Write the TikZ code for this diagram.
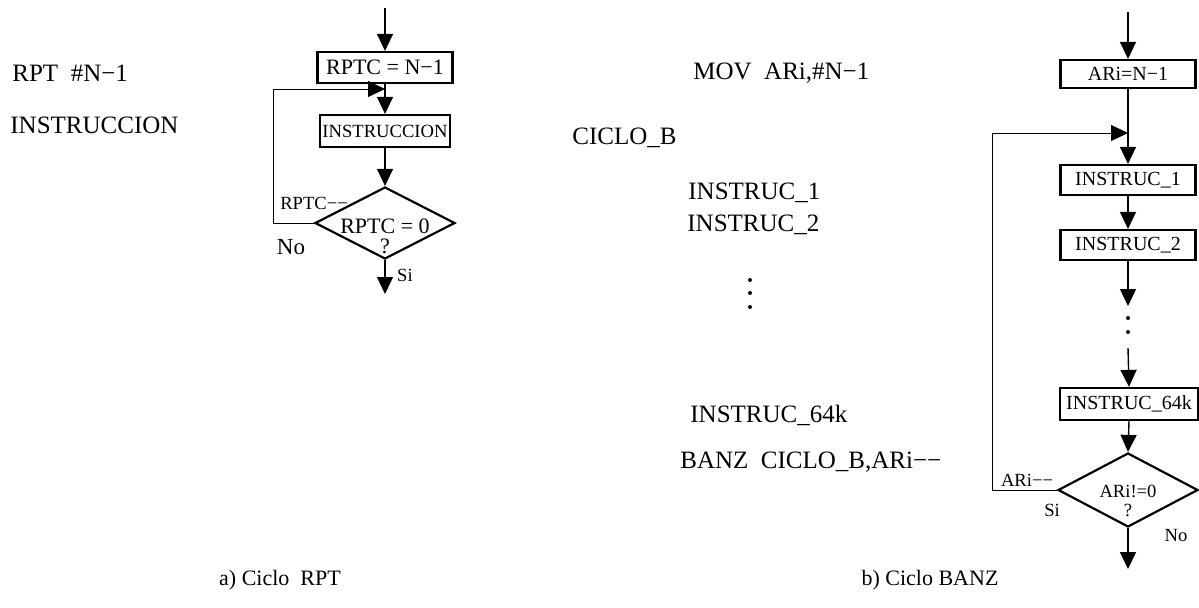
\documentclass[tikz,border=0pt]{standalone}
\usepackage{fontspec}
\setmainfont{Liberation Serif}
\usetikzlibrary{arrows.meta,shapes.geometric}
\tikzset{
 box/.style={draw,line width=1.1pt,minimum width=67.5pt,inner sep=1pt,font=\fontsize{10}{12}\selectfont},
 decision/.style={draw,diamond,line width=1.1pt,minimum width=70pt,minimum height=36pt,inner sep=0pt},
 flow/.style={line width=0.7pt,-{Triangle[length=8.5pt,width=8pt]}},
 back/.style={line width=0.5pt,-{Triangle[length=8.5pt,width=8pt]}},
 code/.style={anchor=west,inner sep=0pt,font=\fontsize{12.5}{14}\selectfont},
 tag/.style={inner sep=0pt,font=\fontsize{9.3}{11}\selectfont}
}
\begin{document}
\begin{tikzpicture}[x=0.5pt,y=-0.5pt]
 \useasboundingbox(0,0)rectangle(1199,607);
 % a) Ciclo RPT
 \node[code](lrpt)at(12,73){RPT\ \ \#N−1};
 \node[code](linstr)at(10,125){INSTRUCCION};
 \node[box,minimum height=15.5pt,font=\fontsize{11}{13}\selectfont](rptc)at(385,67.5){RPTC = N−1};
 \node[box,minimum width=65pt,minimum height=16pt,font=\fontsize{9.3}{11}\selectfont](instr)at(385,131){INSTRUCCION};
 \node[decision](dec1)at(385,223){};
 \node[align=center,inner sep=0pt,font=\fontsize{11}{10}\selectfont](dec1txt)at(385,236){RPTC = 0\\?};
 \coordinate(atop)at(385,8);\coordinate(ajoin)at(385,89);\coordinate(aback)at(273,223);\coordinate(aend)at(385,294);
 \draw[flow](atop)--(rptc.north);
 \draw[line width=0.7pt](rptc.south)--(ajoin);
 \draw[flow](ajoin)--(instr.north);
 \draw[flow](instr.south)--(dec1.north);
 \draw[flow](dec1.south)--(aend);
 \draw[back](dec1.west)--(aback)|-(ajoin);
 \node[tag](lrptc)at(314,203){RPTC−−};
 \node[tag,font=\fontsize{11.5}{13}\selectfont](lno1)at(291,247){No};
 \node[tag](lsi1)at(405,275){Si};
 \node[font=\fontsize{11}{13}\selectfont](capa)at(280,580){a) Ciclo\ \ RPT};
 % b) Ciclo BANZ
 \node[code](lmov)at(693,73){MOV\ \ ARi,\#N−1};
 \node[code](lciclo)at(572,138){CICLO\_B};
 \node[code](li1)at(688,193){INSTRUC\_1};
 \node[code](li2)at(687,225){INSTRUC\_2};
 \foreach \y in {280,293,307}{\fill(750,\y)circle(1pt);}
 \node[code](li64)at(690,415){INSTRUC\_64k};
 \node[code](lbanz)at(680,462){BANZ\ \ CICLO\_B,ARi−−};
 \node[box,minimum height=14pt](ari)at(1128,74){ARi=N−1};
 \node[box,minimum height=15pt](ins1)at(1128,180){INSTRUC\_1};
 \node[box,minimum height=15pt](ins2)at(1128,245){INSTRUC\_2};
 \node[box,minimum width=69pt,minimum height=16pt](ins64)at(1129,404){INSTRUC\_64k};
 \node[decision,minimum height=37pt](dec2)at(1128,490){};
 \node[align=center,inner sep=0pt,font=\fontsize{9.3}{9.5}\selectfont](dec2txt)at(1128,501){ARi!=0\\?};
 \coordinate(btop)at(1128,12);\coordinate(bjoin)at(1128,133);\coordinate(bback)at(992,490);
 \coordinate(bdot)at(1128,306);\coordinate(bresume)at(1128,348);\coordinate(bend)at(1128,569);
 \draw[flow](btop)--(ari.north);
 \draw[line width=0.7pt](ari.south)--(bjoin);
 \draw[flow](bjoin)--(ins1.north);
 \draw[flow](ins1.south)--(ins2.north);
 \draw[flow](ins2.south)--(bdot);
 \foreach \y in {318,332}{\fill(1128,\y)circle(1pt);}
 \draw[flow](bresume)--(ins64.north);
 \draw[flow](ins64.south)--(dec2.north);
 \draw[flow](dec2.south)--(bend);
 \draw[back](dec2.west)--(bback)|-(bjoin);
 \node[tag](lari)at(1027,480){ARi−−};
 \node[tag](lsi2)at(1052,510){Si};
 \node[tag](lno2)at(1176,535){No};
 \node[font=\fontsize{11}{13}\selectfont](capb)at(930,580){b) Ciclo BANZ};
\end{tikzpicture}
\end{document}
